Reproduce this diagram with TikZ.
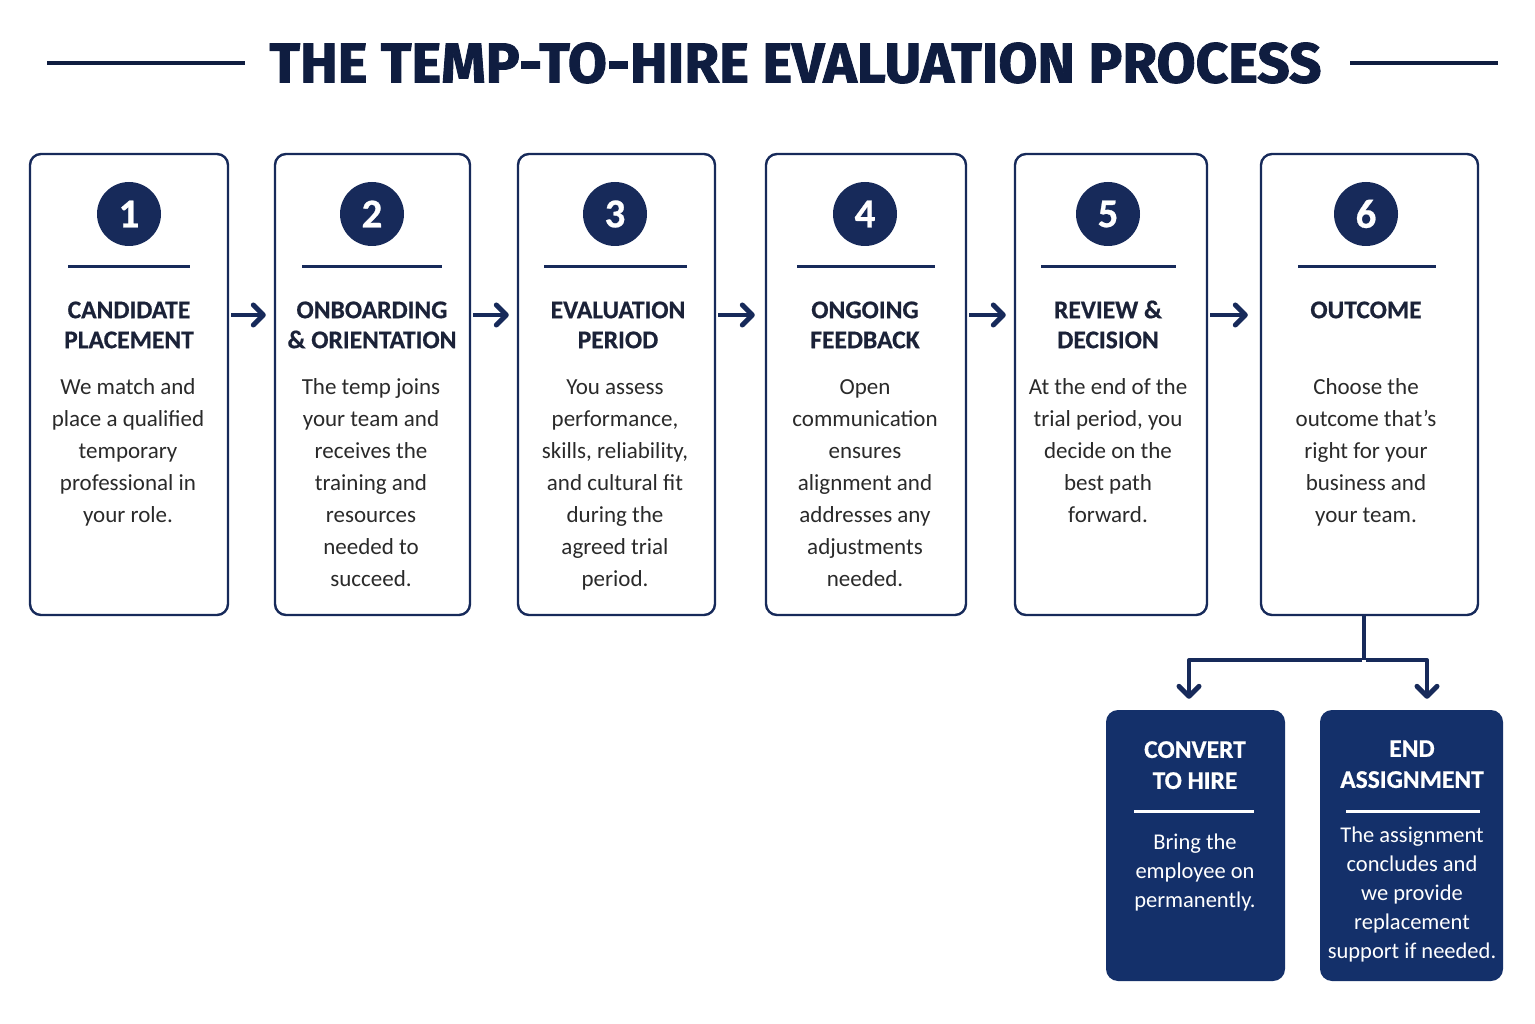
\documentclass[tikz,border=0pt]{standalone}
\usepackage{fontspec}
\setmainfont{Carlito}
\newfontfamily\titlefont{Fira Sans}[BoldFeatures={FakeBold=1.6}]
\newfontfamily\headfont{Carlito}[BoldFeatures={FakeBold=0.6}]
\usetikzlibrary{arrows.meta}
\definecolor{navy}{HTML}{172A5A}
\definecolor{titlec}{HTML}{0F1D40}
\definecolor{headc}{HTML}{1B2238}
\definecolor{bodyc}{HTML}{2A2A2A}
\definecolor{fillnavy}{HTML}{14306A}
\tikzset{
  stepbox/.style={draw=navy, line width=2.4pt, rounded corners=11pt, inner sep=0pt},
  darkbox/.style={fill=fillnavy, rounded corners=12pt, inner sep=0pt},
  numcirc/.style={circle, fill=navy, minimum size=64pt, inner sep=0pt, text=white,
    font=\headfont\bfseries\fontsize{41}{41}\selectfont},
  head/.style={anchor=north, align=center, inner sep=0pt, text=headc,
    font=\headfont\bfseries\fontsize{25.5}{30}\selectfont},
  bodytxt/.style={anchor=north, align=center, inner sep=0pt, text=bodyc,
    font=\fontsize{23}{32}\selectfont},
  whead/.style={anchor=north, align=center, inner sep=0pt, text=white,
    font=\headfont\bfseries\fontsize{25.5}{31}\selectfont},
  wbody/.style={anchor=north, align=center, inner sep=0pt, text=white,
    font=\fontsize{22.5}{29}\selectfont},
  sepline/.style={draw=navy, line width=3pt},
  wsep/.style={draw=white, line width=3pt},
  arr/.style={draw=navy, line width=4pt, line join=round,
    -{Straight Barb[length=10pt,width=20pt,line width=5pt,line join=round,line cap=round]}},
  conn/.style={draw=navy, line width=4pt},
}
\begin{document}
\begin{tikzpicture}[x=1pt,y=-1pt]
\useasboundingbox[fill=white] (0,0) rectangle (1535,1024);
% title
\draw[titlec, line width=3.5pt] (47,63) -- (245,63);
\draw[titlec, line width=3.5pt] (1350,63) -- (1498,63);
\node[text=titlec, inner sep=0pt] (title) at (795.5,63) {\resizebox{1052pt}{40pt}{\titlefont\bfseries THE TEMP-TO-HIRE EVALUATION PROCESS}};

% boxes
\node[stepbox, minimum width=198pt, minimum height=461pt] (b1) at (129,384.5) {};
\node[stepbox, minimum width=195pt, minimum height=461pt] (b2) at (372.5,384.5) {};
\node[stepbox, minimum width=197pt, minimum height=461pt] (b3) at (616.5,384.5) {};
\node[stepbox, minimum width=200pt, minimum height=461pt] (b4) at (866,384.5) {};
\node[stepbox, minimum width=192pt, minimum height=461pt] (b5) at (1111,384.5) {};
\node[stepbox, minimum width=217pt, minimum height=461pt] (b6) at (1369.5,384.5) {};

% circles
\node[numcirc] (c1) at (129,214) {1};
\node[numcirc] (c2) at (372,214) {2};
\node[numcirc] (c3) at (615,214) {3};
\node[numcirc] (c4) at (865,214) {4};
\node[numcirc] (c5) at (1108,214) {5};
\node[numcirc] (c6) at (1366,214) {6};

% separators
\draw[sepline] (68,267) -- (190,267);
\draw[sepline] (302,267) -- (442,267);
\draw[sepline] (544,267) -- (687,267);
\draw[sepline] (797,267) -- (935,267);
\draw[sepline] (1041,267) -- (1176,267);
\draw[sepline] (1298,267) -- (1436,267);

% headings
\node[head] (h1) at (129,297) {\strut CANDIDATE\\PLACEMENT};
\node[head] (h2) at (372,297) {\strut ONBOARDING\\\& ORIENTATION};
\node[head] (h3) at (618,297) {\strut EVALUATION\\PERIOD};
\node[head] (h4) at (865,297) {\strut ONGOING\\FEEDBACK};
\node[head] (h5) at (1108,297) {\strut REVIEW \&\\DECISION};
\node[head] (h6) at (1366,297) {\strut OUTCOME};

% bodies
\node[bodytxt] (t1) at (128,372) {\strut We match and\\place a qualified\\temporary\\professional in\\your role.};
\node[bodytxt] (t2) at (371,372) {\strut The temp joins\\your team and\\receives the\\training and\\resources\\needed to\\succeed.};
\node[bodytxt] (t3) at (615,372) {\strut You assess\\performance,\\skills, reliability,\\and cultural fit\\during the\\agreed trial\\period.};
\node[bodytxt] (t4) at (865,372) {\strut Open\\communication\\ensures\\alignment and\\addresses any\\adjustments\\needed.};
\node[bodytxt] (t5) at (1108,372) {\strut At the end of the\\trial period, you\\decide on the\\best path\\forward.};
\node[bodytxt] (t6) at (1366,372) {\strut Choose the\\outcome that’s\\right for your\\business and\\your team.};

% arrows between steps
\draw[arr] ([shift={(2,-69.5)}]b1.east) -- ([shift={(-8,-69.5)}]b2.west);
\draw[arr] ([shift={(2,-69.5)}]b2.east) -- ([shift={(-8,-69.5)}]b3.west);
\draw[arr] ([shift={(2,-69.5)}]b3.east) -- ([shift={(-10,-69.5)}]b4.west);
\draw[arr] ([shift={(2,-69.5)}]b4.east) -- ([shift={(-8,-69.5)}]b5.west);
\draw[arr] ([shift={(2,-69.5)}]b5.east) -- ([shift={(-12,-69.5)}]b6.west);

% outcome boxes
\node[darkbox, minimum width=179pt, minimum height=271pt] (conv) at (1195.5,845.5) {};
\node[darkbox, minimum width=183pt, minimum height=271pt] (endn) at (1411.5,845.5) {};
\node[whead] (ch) at (1195,736) {\strut CONVERT\\TO HIRE};
\node[whead] (eh) at (1412,735) {\strut END\\ASSIGNMENT};
\draw[wsep] (1134,811) -- (1254,811);
\draw[wsep] (1346,811) -- (1480,811);
\node[wbody] (cb) at (1195,829) {\strut Bring the\\employee on\\permanently.};
\node[wbody] (eb) at (1412,822) {\strut The assignment\\concludes and\\we provide\\replacement\\support if needed.};

% branch
\coordinate (j) at (1364,660);
\draw[conn] (b6.south -| j) -- (j);
\draw[arr] ([xshift=-2pt]j) -| ([xshift=-6.5pt,yshift=11pt]conv.north);
\draw[arr] ([xshift=2pt]j) -| ([xshift=15.5pt,yshift=11pt]endn.north);
\end{tikzpicture}
\end{document}
